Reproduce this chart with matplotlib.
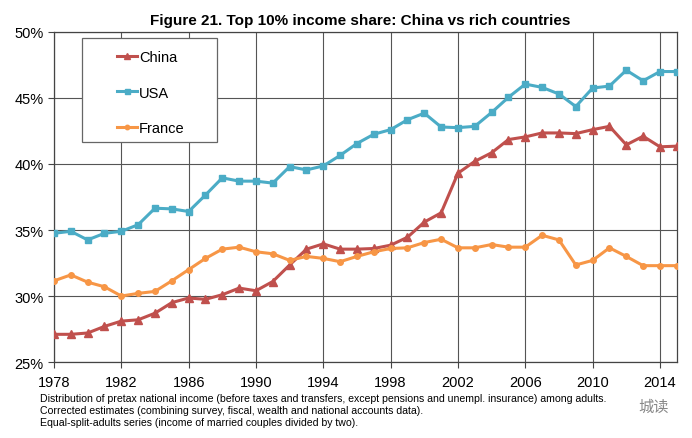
import matplotlib
matplotlib.use("Agg")
import matplotlib.pyplot as plt
from matplotlib.ticker import FuncFormatter
from matplotlib.patches import Rectangle

years = list(range(1978, 2016))
china = [27.1, 27.1, 27.2, 27.7, 28.1, 28.2, 28.7, 29.5, 29.85, 29.75,
         30.1, 30.6, 30.4, 31.1, 32.35, 33.55, 33.95, 33.55, 33.55, 33.6,
         33.85, 34.45, 35.6, 36.3, 39.3, 40.2, 40.85, 41.85, 42.05, 42.35,
         42.35, 42.3, 42.6, 42.85, 41.45, 42.1, 41.3, 41.35]
usa = [34.75, 34.9, 34.25, 34.75, 34.9, 35.4, 36.65, 36.6, 36.4, 37.65,
       38.95, 38.7, 38.7, 38.55, 39.8, 39.55, 39.85, 40.65, 41.55, 42.25,
       42.6, 43.35, 43.85, 42.8, 42.75, 42.85, 43.9, 45.05, 46.05, 45.8,
       45.3, 44.35, 45.75, 45.9, 47.1, 46.3, 47.0, 47.0]
france = [31.15, 31.6, 31.05, 30.7, 30.0, 30.2, 30.35, 31.15, 32.0, 32.85,
          33.55, 33.7, 33.35, 33.2, 32.7, 33.0, 32.85, 32.6, 33.0, 33.35,
          33.6, 33.65, 34.05, 34.3, 33.65, 33.65, 33.9, 33.7, 33.7, 34.6,
          34.25, 32.35, 32.7, 33.65, 33.0, 32.3, 32.3, 32.3]
xticks = list(range(1978, 2015, 4))
yticks = [25, 30, 35, 40, 45, 50]
title = "Figure 21. Top 10% income share: China vs rich countries"
notes = ["Distribution of pretax national income (before taxes and transfers, except pensions and unempl. insurance) among adults.",
         "Corrected estimates (combining survey, fiscal, wealth and national accounts data).",
         "Equal-split-adults series (income of married couples divided by two)."]

plt.rcParams['font.family'] = ['Liberation Sans', 'DejaVu Sans']
fig = plt.figure(figsize=(6.92, 4.39), dpi=100)
ax = fig.add_axes([0.078, 0.173, 0.900, 0.752])

c_china = '#C0504D'
c_usa = '#4BACC6'
c_fr = '#F79646'
ax.plot(years, china, color=c_china, marker='^', markersize=5.5, lw=2.2, label='China', zorder=4)
ax.plot(years, usa, color=c_usa, marker='s', markersize=4.5, lw=2.2, label='USA', zorder=4)
ax.plot(years, france, color=c_fr, marker='o', markersize=4, lw=2.2, label='France', zorder=4)

ax.set_xlim(1978, 2015)
ax.set_ylim(25, 50)
ax.set_xticks(xticks)
ax.set_yticks(yticks)
ax.yaxis.set_major_formatter(FuncFormatter(lambda v, p: f"{int(v)}%"))
ax.grid(True, color='#555555', lw=0.8)
ax.set_axisbelow(True)
for s in ax.spines.values():
    s.set_color('#444444')
    s.set_linewidth(0.9)
ax.tick_params(axis='both', labelsize=10.5, color='#444444', length=4, width=0.8)
ax.tick_params(axis='x', pad=5)

# legend box
box = Rectangle((0.045, 0.667), 0.217, 0.315, transform=ax.transAxes,
                facecolor='white', edgecolor='#666666', lw=0.9, zorder=5)
ax.add_patch(box)
leg = ax.legend(loc='upper left', bbox_to_anchor=(0.101, 0.945), frameon=False,
                fontsize=10.5, labelspacing=1.47, handlelength=1.4,
                handletextpad=0.1, borderpad=0, borderaxespad=0, markerscale=0.8)
leg.set_zorder(6)

fig.text(0.52, 0.952, title, ha='center', va='center', fontsize=11, fontweight='bold')
ys = [0.091, 0.064, 0.036]
for y, n in zip(ys, notes):
    fig.text(0.058, y, n, ha='left', va='center', fontsize=7.6)
fig.text(0.945, 0.073, "城读", ha='center', va='center', fontsize=11, color='#888888',
         family=['Noto Sans CJK SC', 'DejaVu Sans'])

fig.savefig('out.png', dpi=100)
